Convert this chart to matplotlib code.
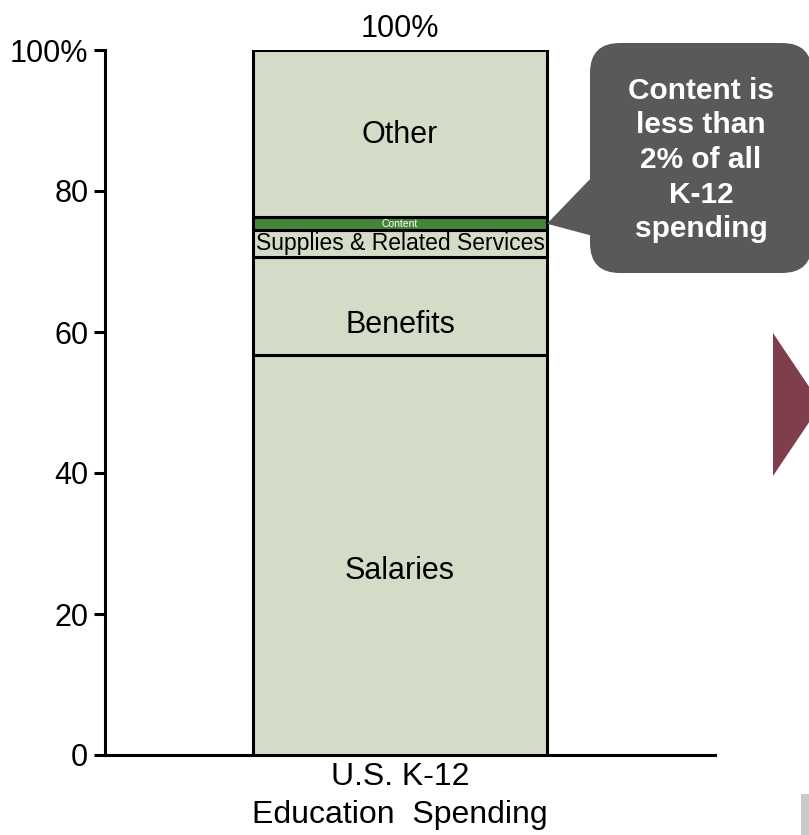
import matplotlib
matplotlib.use("Agg")
import matplotlib.pyplot as plt
from matplotlib.patches import FancyBboxPatch, Polygon, Rectangle

plt.rcParams['font.family'] = ['Liberation Sans', 'DejaVu Sans']

# Share of U.S. K-12 education spending by category (percent, bottom to top)
category = "U.S. K-12\nEducation  Spending"
segments = ["Salaries", "Benefits", "Supplies & Related Services", "Content", "Other"]
shares = [56.8, 13.9, 3.7, 1.9, 23.7]
total_label = "100%"
y_ticks = [0, 20, 40, 60, 80, 100]
y_tick_labels = ["0", "20", "40", "60", "80", "100%"]
callout_text = "Content is\nless than\n2% of all\nK-12\nspending"

W, H = 809, 835
fig = plt.figure(figsize=(W / 100, H / 100), dpi=100)
ax = fig.add_axes([105 / W, 1 - 755 / H, 610 / W, 705 / H])

fill = "#D4DCC7"
green = "#46843A"
face = [fill, fill, fill, green, fill]
font_sizes = [22, 22, 16.5, 7.5, 22]
text_colors = ["black", "black", "black", "white", "black"]
label_offsets = [-12, -14, 0, 0, -1]

bar_w = 0.6
bottom = 0
for name, val, fc, fs, tc, dy in zip(segments, shares, face, font_sizes,
                                     text_colors, label_offsets):
    ax.bar(0, val, width=bar_w, bottom=bottom, color=fc, edgecolor="black",
           linewidth=2.2, zorder=3)
    ax.annotate(name, (0, bottom + val / 2), xytext=(0, dy),
                textcoords="offset points", ha="center", va="center",
                fontsize=fs, color=tc, zorder=4)
    bottom += val

ax.annotate(total_label, (0, sum(shares)), xytext=(0, 4),
            textcoords="offset points", ha="center", va="bottom", fontsize=22)

ax.set_xlim(-0.602, 0.643)
ax.set_ylim(0, 100)
ax.set_yticks(y_ticks)
ax.set_yticklabels(y_tick_labels)
ax.set_xticks([0])
ax.set_xticklabels([category], linespacing=1.33)
ax.tick_params(axis="y", labelsize=22, length=8, width=2.2, pad=4)
ax.tick_params(axis="x", labelsize=23, length=0, pad=5)
for s in ["top", "right"]:
    ax.spines[s].set_visible(False)
for s in ["left", "bottom"]:
    ax.spines[s].set_linewidth(2.2)
ax.patch.set_alpha(0)


def fig_xy(px, py):
    """Pixel position (top-left origin) to figure fraction."""
    return (px / W, 1 - py / H)


# Callout box pointing at the content segment
callout = "#595959"
content_mid = sum(shares[:3]) + shares[3] / 2
tip_disp = ax.transData.transform((bar_w / 2, content_mid))
tip = fig.transFigure.inverted().transform(tip_disp)
box_l, box_t, box_r, box_b = 590, 43, 812, 273
box = FancyBboxPatch(fig_xy(box_l, box_b), (box_r - box_l) / W, (box_b - box_t) / H,
                     boxstyle="round,pad=0,rounding_size=0.037",
                     facecolor=callout, edgecolor="none",
                     transform=fig.transFigure, mutation_aspect=W / H)
fig.add_artist(box)
pointer = Polygon([tip, fig_xy(593, 176), fig_xy(593, 236)], closed=True,
                  facecolor=callout, edgecolor="none", transform=fig.transFigure)
fig.add_artist(pointer)
fig.text(701 / W, 1 - 160 / H, callout_text, ha="center", va="center",
         fontsize=21.5, fontweight="bold", color="white", linespacing=1.3)

# Arrow shape at the right edge
arrow = Polygon([fig_xy(773, 333), fig_xy(773, 476), fig_xy(821, 404.5)],
                closed=True, facecolor="#7F3E4C", edgecolor="none",
                transform=fig.transFigure)
fig.add_artist(arrow)

# Small grey block in the bottom-right corner
fig.add_artist(Rectangle(fig_xy(801, 835), 8 / W, 41 / H, facecolor="#C9C9C9",
                         edgecolor="none", transform=fig.transFigure))

fig.savefig("out.png", dpi=100)
